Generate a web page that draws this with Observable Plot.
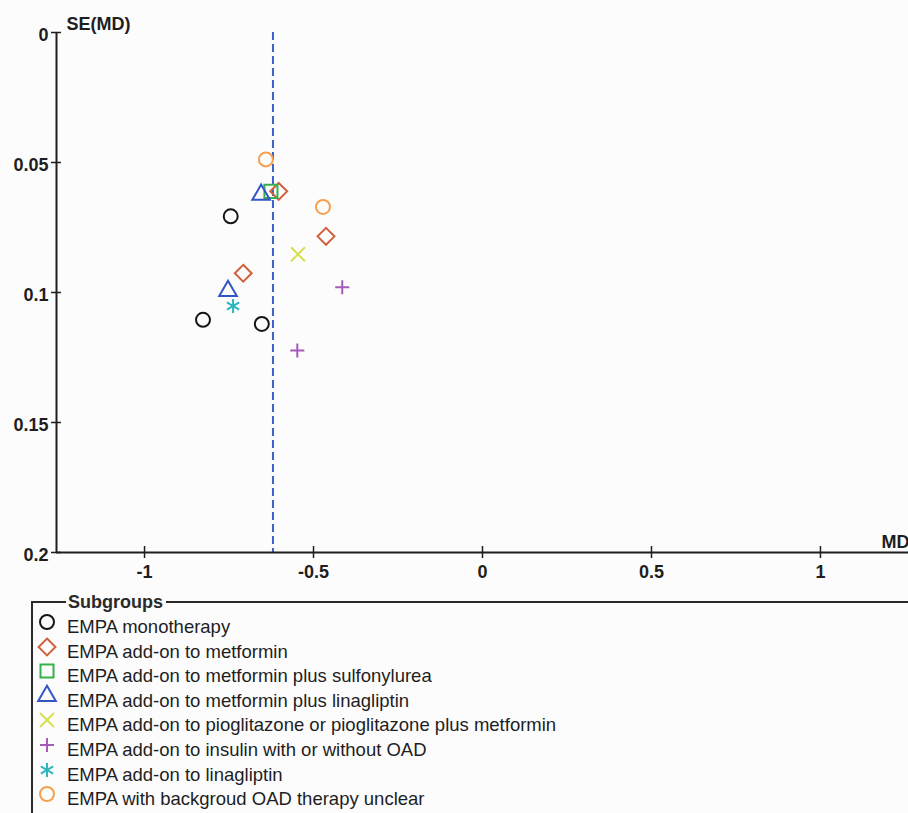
<!DOCTYPE html>
<html>
<head>
<meta charset="utf-8">
<script src="https://cdn.jsdelivr.net/npm/d3@7"></script>
<script src="https://cdn.jsdelivr.net/npm/@observablehq/plot@0.6"></script>
<style>
  html, body { margin: 0; padding: 0; background: #fcfcfd; }
  #wrap { position: relative; width: 908px; height: 813px; overflow: hidden; font-family: "Liberation Sans", Arial, sans-serif; color: #1e1e1e; }
  #chart { position: absolute; left: 0; top: 0; }
  #legend { position: absolute; left: 31px; top: 601px; width: 900px; height: 240px; border-top: 2px solid #2a2a2a; border-left: 2px solid #2a2a2a; }
  #legend .title { position: absolute; left: 33px; top: -11px; padding: 0 3px 0 2px; background: #fcfcfd; font-weight: bold; font-size: 18px; line-height: 20px; color: #2a2a2a; }
  #legend .row { position: absolute; left: 0; height: 24px; font-size: 18.5px; line-height: 24px; white-space: nowrap; }
  #legend .row span { position: absolute; left: 34px; top: 0; }
  #legend .row svg { position: absolute; left: 1px; top: -6px; overflow: visible; }
</style>
</head>
<body>
<div id="wrap">
  <div id="chart"></div>
  <div id="legend"><div class="title">Subgroups</div></div>
</div>
<script>
// ---- data ----
const groups = [
  "EMPA monotherapy",
  "EMPA add-on to metformin",
  "EMPA add-on to metformin plus sulfonylurea",
  "EMPA add-on to metformin plus linagliptin",
  "EMPA add-on to pioglitazone or pioglitazone plus metformin",
  "EMPA add-on to insulin with or without OAD",
  "EMPA add-on to linagliptin",
  "EMPA with backgroud OAD therapy unclear"
];
const studyGroup = [0, 0, 0, 1, 1, 1, 2, 3, 3, 4, 5, 5, 6, 7, 7];
const studyMD = [-0.745, -0.827, -0.653, -0.603, -0.463, -0.708, -0.626, -0.655, -0.753, -0.546, -0.415, -0.548, -0.738, -0.641, -0.472];
const studySE = [0.0707, 0.1105, 0.1121, 0.0611, 0.0784, 0.0926, 0.0611, 0.0624, 0.0994, 0.0853, 0.0980, 0.1223, 0.1052, 0.0488, 0.0671];
const pooledMD = -0.62;
const xTicks = [-1, -0.5, 0, 0.5, 1];
const xTickLabels = ["-1", "-0.5", "0", "0.5", "1"];
const yTicks = [0, 0.05, 0.1, 0.15, 0.2];
const yTickLabels = ["0", "0.05", "0.1", "0.15", "0.2"];
const xTitle = "MD";
const yTitle = "SE(MD)";

// ---- styles ----
const symbols = ["circle", "diamond2", "square2", "triangle2", "times", "plus", "asterisk", "circle"];
const d3symbols = [d3.symbolCircle, d3.symbolDiamond2, d3.symbolSquare2, d3.symbolTriangle2, d3.symbolTimes, d3.symbolPlus, d3.symbolAsterisk, d3.symbolCircle];
const colors = ["#151515", "#d0603c", "#34b04c", "#3355c6", "#d6e04a", "#a65bb8", "#2bb6c0", "#f5a04e"];
const radii = [7, 7.6, 8.3, 8.4, 6.4, 4.6, 6.7, 7];

const xDom = [-1.2605, 1.2605];
const studies = studyMD.map((md, i) => ({md, se: studySE[i], g: studyGroup[i]}));
const font = "'Liberation Sans', Arial, sans-serif";
const ink = "#1e1e1e";

const plot = Plot.plot({
  width: 908,
  height: 595,
  marginLeft: 56,
  marginRight: 0,
  marginTop: 32,
  marginBottom: 43,
  x: {domain: xDom, axis: null},
  y: {domain: [0, 0.2], reverse: true, axis: null},
  style: {background: "transparent", fontFamily: font, overflow: "visible"},
  marks: [
    Plot.ruleX([pooledMD], {x: d => d, y1: 0, y2: 0.2, stroke: "#3a62cc", strokeWidth: 2, strokeDasharray: "8,4"}),
    Plot.ruleX([xDom[0]], {x: d => d, y1: 0, y2: 0.2, stroke: ink, strokeWidth: 2}),
    Plot.ruleY([0.2], {y: d => d, x1: xDom[0], x2: xDom[1], stroke: ink, strokeWidth: 2}),
    Plot.ruleX(xTicks, {x: d => d, y1: 0.2, y2: 0.2, insetTop: -6, insetBottom: -6, stroke: ink, strokeWidth: 1.5}),
    Plot.ruleY(yTicks, {y: d => d, x1: xDom[0], x2: xDom[0], insetLeft: -5, insetRight: -5, stroke: ink, strokeWidth: 1.5}),
    Plot.text(xTicks, {x: d => d, y: 0.2, text: (d, i) => xTickLabels[i], dy: 20, fontSize: 18, fontWeight: "bold", fill: ink}),
    Plot.text(yTicks, {x: xDom[0], y: d => d, text: (d, i) => yTickLabels[i], textAnchor: "end", dx: -8, dy: 3, fontSize: 18, fontWeight: "bold", fill: ink}),
    Plot.text([yTitle], {x: xDom[0], y: 0, text: d => d, textAnchor: "start", dx: 10, dy: -8, fontSize: 18, fontWeight: "bold", fill: ink}),
    Plot.text([xTitle], {x: xDom[1], y: 0.2, text: d => d, textAnchor: "end", dx: 1, dy: -10, fontSize: 18, fontWeight: "bold", fill: ink}),
    ...groups.map((g, k) => Plot.dot(studies.filter(d => d.g === k), {
      x: "md", y: "se", symbol: symbols[k], r: radii[k], fill: "none", stroke: colors[k], strokeWidth: 2
    }))
  ]
});
document.getElementById("chart").appendChild(plot);

// ---- legend ----
const legend = d3.select("#legend");
groups.forEach((g, k) => {
  const row = legend.append("div").attr("class", "row").style("top", (12 + 24.6 * k) + "px");
  const svg = row.append("svg").attr("width", 26).attr("height", 26);
  svg.append("path")
    .attr("transform", "translate(13,13)")
    .attr("d", d3.symbol(d3symbols[k], Math.PI * radii[k] * radii[k])())
    .attr("fill", "none")
    .attr("stroke", colors[k])
    .attr("stroke-width", 2);
  row.append("span").text(g);
});
</script>
</body>
</html>
